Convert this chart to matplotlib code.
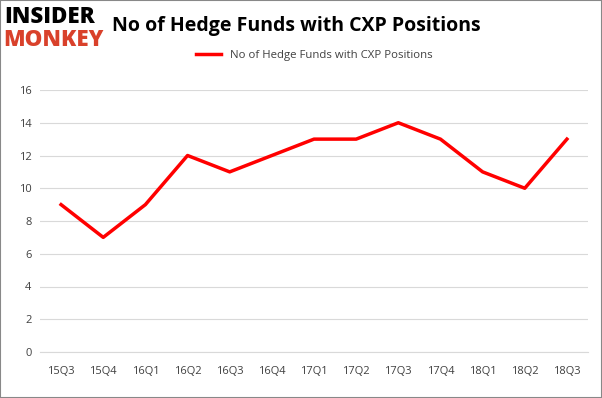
import matplotlib.pyplot as plt

quarters = ["15Q3", "15Q4", "16Q1", "16Q2", "16Q3", "16Q4", "17Q1",
            "17Q2", "17Q3", "17Q4", "18Q1", "18Q2", "18Q3"]
funds = [9, 7, 9, 12, 11, 12, 13, 13, 14, 13, 11, 10, 13]

plt.rcParams["font.family"] = ["Open Sans", "DejaVu Sans"]

fig = plt.figure(figsize=(6.02, 3.98), dpi=100)
ax = fig.add_axes([40 / 602, 1 - 352 / 398, 548 / 602, 262 / 398])

x = range(len(quarters))
ax.plot(x, funds, color="#ff0000", linewidth=2.5, label="No of Hedge Funds with CXP Positions")
ax.set_xlim(-0.5, len(quarters) - 0.5)
ax.set_ylim(0, 16)
ax.set_yticks(range(0, 17, 2))
ax.set_xticks(list(x))
ax.set_xticklabels(quarters)
ax.tick_params(axis="both", labelsize=8, colors="#404040", length=0, pad=6)
ax.tick_params(axis="x", pad=10)
ax.grid(axis="y", color="#d9d9d9", linewidth=0.8)
ax.set_axisbelow(True)
for side in ["top", "right", "left"]:
    ax.spines[side].set_visible(False)
ax.spines["bottom"].set_color("#d9d9d9")

ax.legend(loc="lower center", bbox_to_anchor=(0.5, 1.07), frameon=False,
          fontsize=8.2, handlelength=2.2, labelcolor="#404040")

# title and logo
fig.text(112 / 602, 1 - 26 / 398, "No of Hedge Funds with CXP Positions",
         fontsize=14, fontweight="bold", va="center", ha="left")
fig.text(4 / 602, 1 - 17 / 398, "INSIDER", fontsize=16, fontweight="heavy",
         va="center", ha="left", color="black")
fig.text(3 / 602, 1 - 40 / 398, "MONKEY", fontsize=16, fontweight="heavy",
         va="center", ha="left", color="#d9412b")

fig.patches.append(plt.Rectangle((0, 0), 1, 1, transform=fig.transFigure,
                                 fill=False, edgecolor="#888888", linewidth=1.5))

fig.savefig("out.png", dpi=100)
